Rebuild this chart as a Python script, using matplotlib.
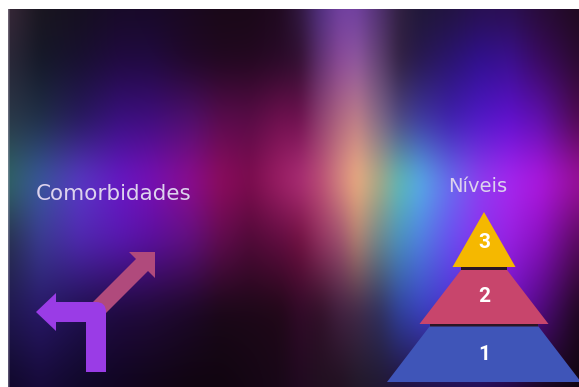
import numpy as np
import matplotlib
matplotlib.use("Agg")
import matplotlib.pyplot as plt
from matplotlib.patches import Polygon, PathPatch, Rectangle
from matplotlib.path import Path
from matplotlib.colors import to_rgb

W, H = 579, 387

# ---- background colour field ----
bg_x = [8, 40, 80, 120, 150, 190, 220, 250, 280, 300, 320, 340, 357, 380, 400, 420, 450, 480, 510, 540, 578]
bg_y = [10, 60, 120, 180, 240, 310, 387]
bg_row_10 = ["#382838", "#1a1620", "#161020", "#180a28", "#180a28", "#1a0820", "#1a0818", "#1a0818", "#200a20",
             "#301840", "#503080", "#7040a0", "#7040a0", "#503070", "#302040", "#201838", "#221440", "#281050",
             "#2a1050", "#280c38", "#200a20"]
bg_row_60 = ["#2a2838", "#141828", "#181030", "#200a40", "#200a40", "#200828", "#200820", "#220820", "#280a28",
             "#301030", "#603070", "#8a4a98", "#9058a0", "#604070", "#302040", "#281850", "#2a1470", "#301090",
             "#3a1090", "#3a0a60", "#2a0a30"]
bg_row_120 = ["#2a3848", "#203048", "#281a60", "#3a1080", "#400e80", "#501070", "#5a0c50", "#5a0c48", "#701050",
              "#701050", "#904070", "#b06880", "#c08088", "#806888", "#504888", "#4038a0", "#4020b0", "#5018c8",
              "#6010d0", "#6010b0", "#500a50"]
bg_row_180 = ["#306868", "#3a5aa0", "#5a3ac8", "#6a18c8", "#7a10b8", "#900c90", "#900c60", "#800c50", "#a02068",
              "#b03078", "#c05078", "#d88880", "#f0b080", "#a8b088", "#60c0b8", "#58b0e8", "#6a70f0", "#9040f0",
              "#a828f0", "#b018e0", "#a010a0"]
bg_row_240 = ["#283050", "#3a3a90", "#5028b0", "#5818b0", "#5a10a0", "#601080", "#600c50", "#500a38", "#600c40",
              "#701040", "#903060", "#a05070", "#b08070", "#6a8a90", "#4a90c0", "#5080e0", "#6a50f0", "#8a30f0",
              "#9820e0", "#8a10c0", "#5a0a60"]
bg_row_310 = ["#201850", "#281868", "#201050", "#200a40", "#200a38", "#1c0828", "#1a0818", "#1c0818", "#200818",
              "#300a28", "#301028", "#402040", "#402848", "#303060", "#3040a0", "#3a40c0", "#4a30d0", "#6020d0",
              "#6a10c0", "#500a80", "#200820"]
bg_row_387 = ["#10082a", "#160a38", "#100828", "#100520", "#100518", "#100510", "#100510", "#140614", "#180818",
              "#200a20", "#201020", "#201020", "#201828", "#201830", "#201038", "#201040", "#201048", "#201050",
              "#200a40", "#180820", "#100510"]
bg_rows = [bg_row_10, bg_row_60, bg_row_120, bg_row_180, bg_row_240, bg_row_310, bg_row_387]

# ---- pyramid data ----
levels = ["1", "2", "3"]
level_colors = ["#3f55b8", "#c8456c", "#f5b800"]

# ---- texts ----
left_title = "Comorbidades"
right_title = "Níveis"

# build background image
xs = np.arange(W) + 0.5
ys = np.arange(H) + 0.5
rows = np.array([[to_rgb(c) for c in r] for r in bg_rows])
tmp = np.empty((len(bg_y), W, 3))
for i in range(len(bg_y)):
    for c in range(3):
        tmp[i, :, c] = np.interp(xs, bg_x, rows[i, :, c])
img = np.empty((H, W, 3))
for j in range(W):
    for c in range(3):
        img[:, j, c] = np.interp(ys, bg_y, tmp[:, j, c])


def blur(a, sx, sy):
    def k(s):
        r = int(3 * s)
        t = np.arange(-r, r + 1)
        g = np.exp(-t ** 2 / (2 * s * s))
        return g / g.sum(), r
    gx, rx = k(sx)
    gy, ry = k(sy)
    p = np.pad(a, ((0, 0), (rx, rx), (0, 0)), mode="edge")
    out = np.zeros_like(a)
    for i, w in enumerate(gx):
        out += w * p[:, i:i + a.shape[1], :]
    p = np.pad(out, ((ry, ry), (0, 0), (0, 0)), mode="edge")
    out2 = np.zeros_like(a)
    for i, w in enumerate(gy):
        out2 += w * p[i:i + a.shape[0], :, :]
    return out2


img = blur(img, 5, 14)
img = np.clip(img, 0, 1)
# left light edge
img[:, 8, :] = 0.6 * img[:, 8, :] + 0.4 * np.array([0.75, 0.72, 0.78])
img[:, 9, :] = 0.8 * img[:, 9, :] + 0.2 * np.array([0.75, 0.72, 0.78])
img[:9, :, :] = 1.0
img[:, :8, :] = 1.0

fig = plt.figure(figsize=(W / 100, H / 100), dpi=100)
fig.patch.set_facecolor("white")
ax = fig.add_axes([0, 0, 1, 1])
ax.imshow(img, extent=(0, W, H, 0), interpolation="bilinear", aspect="auto", zorder=0)
ax.set_xlim(0, W)
ax.set_ylim(H, 0)
ax.axis("off")

# ---- arrow icon ----
pink = "#b04a7c"
purple = "#9a3ce6"
T = np.array([155.0, 252.0])
a = 26.0
W1 = T + np.array([-a, 0])
W2 = T + np.array([0, a])
M = (W1 + W2) / 2
u = np.array([1.0, -1.0]) / np.sqrt(2)
n = np.array([1.0, 1.0]) / np.sqrt(2)
hw = 8.5
tail = M - 62 * u
ax.add_patch(Polygon([T, W1, M - hw * n, tail - hw * n, tail + hw * n, M + hw * n, W2],
                     closed=True, facecolor=pink, edgecolor="none", zorder=2))

verts = [(36, 312), (56, 293), (56, 302), (96, 302), (106, 302), (106, 312), (106, 372),
         (86, 372), (86, 322), (56, 322), (56, 331), (36, 312)]
codes = [Path.MOVETO, Path.LINETO, Path.LINETO, Path.LINETO, Path.CURVE3, Path.CURVE3, Path.LINETO,
         Path.LINETO, Path.LINETO, Path.LINETO, Path.LINETO, Path.CLOSEPOLY]
ax.add_patch(PathPatch(Path(verts, codes), facecolor=purple, edgecolor="none", zorder=3))

# ---- pyramid ----
cx = 484
geom = [  # (top y, bottom y, top half width, bottom half width)
    (326.5, 382, 54.5, 97),
    (270, 324, 23, 64.5),
    (212, 267, 0, 31.5),
]
ax.add_patch(Rectangle((cx - 23, 266), 46, 4.5, facecolor="#2a1624", edgecolor="none", zorder=2))
ax.add_patch(Rectangle((cx - 54, 323.5), 108, 3.5, facecolor="#2a1624", edgecolor="none", zorder=2))
label_y = [355, 297, 242]
for lvl, col, (yt, yb, ht, hb), ly in zip(levels, level_colors, geom, label_y):
    ax.add_patch(Polygon([(cx - ht, yt), (cx + ht, yt), (cx + hb, yb), (cx - hb, yb)],
                         closed=True, facecolor=col, edgecolor="none", zorder=3))
    ax.text(cx, ly, lvl, color="white", fontsize=15, fontweight="bold", family="Roboto",
            ha="center", va="center", zorder=4)

# ---- titles ----
ax.text(36, 194, left_title, color="#ddd3ee", fontsize=15.5, family="DejaVu Sans",
        ha="left", va="center", zorder=4)
ax.text(478, 187, right_title, color="#ddd3ee", fontsize=14, family="DejaVu Sans",
        ha="center", va="center", zorder=4)

fig.savefig("out.png", dpi=100, facecolor="white")
